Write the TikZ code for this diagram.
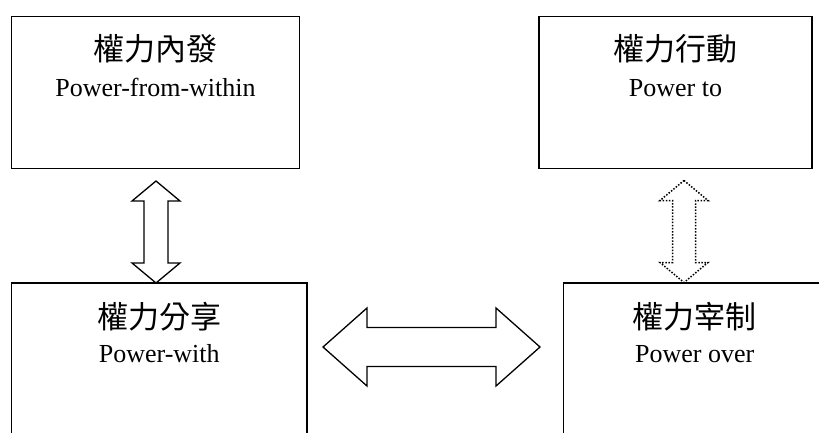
\documentclass[tikz,border=0pt]{standalone}
\usepackage{fontspec}
\setmainfont{Liberation Serif}
\newfontfamily\cjkfont{Noto Sans CJK TC}
\begin{document}
\begin{tikzpicture}[x=1pt,y=-1pt,
  box/.style={draw, line width=1.6pt, inner sep=0pt, rectangle},
  zh/.style={font=\cjkfont\fontsize{31}{31}\selectfont, inner sep=0pt},
  en/.style={font=\fontsize{26}{26}\selectfont, inner sep=0pt, anchor=base},
  blockarr/.style={draw, line width=1.3pt, line join=miter, fill=white},
  dotarr/.style={draw, line width=1.5pt, line join=miter, dash pattern=on 1.5pt off 1.6pt}]
\useasboundingbox (0,0) rectangle (819,432);
\clip (0,0) rectangle (819,432);
% boxes
\node[box, minimum width=288pt, minimum height=152pt] (tl) at (155.5,92.5) {};
\node[box, minimum width=273pt, minimum height=152pt] (tr) at (675.5,92.5) {};
\node[box, minimum width=295.5pt, minimum height=177pt] (bl) at (159.25,371.5) {};
\node[box, minimum width=262.5pt, minimum height=177pt] (br) at (694.75,371.5) {};
% texts
\node[zh] (tlzh) at ([yshift=-33pt]tl.north) {權力內發};
\node[en] (tlen) at ([yshift=-80.5pt]tl.north) {Power-from-within};
\node[zh] (trzh) at ([yshift=-33pt]tr.north) {權力行動};
\node[en] (tren) at ([yshift=-80.5pt]tr.north) {Power to};
\node[zh] (blzh) at ([yshift=-34pt]bl.north) {權力分享};
\node[en] (blen) at ([yshift=-80.5pt]bl.north) {Power-with};
\node[zh] (brzh) at ([yshift=-34pt]br.north) {權力宰制};
\node[en] (bren) at ([yshift=-80.5pt]br.north) {Power over};
% block arrows
\coordinate (v1) at (156,232);
\coordinate (v2) at (684,231.5);
\coordinate (h1) at (431.5,347);
\draw[blockarr, shift={(v1)}] (0,-51) -- (24,-31) -- (12,-31) -- (12,31) -- (24,31) -- (0,51) -- (-24,31) -- (-12,31) -- (-12,-31) -- (-24,-31) -- cycle;
\draw[dotarr, shift={(v2)}] (0,-51) -- (24,-31) -- (11.5,-31) -- (11.5,31) -- (24,31) -- (0,51) -- (-24,31) -- (-11.5,31) -- (-11.5,-31) -- (-24,-31) -- cycle;
\draw[blockarr, shift={(h1)}] (-108.5,0) -- (-64.5,-39) -- (-64.5,-19.5) -- (64.5,-19.5) -- (64.5,-39) -- (108.5,0) -- (64.5,39) -- (64.5,19.5) -- (-64.5,19.5) -- (-64.5,39) -- cycle;
\end{tikzpicture}
\end{document}
